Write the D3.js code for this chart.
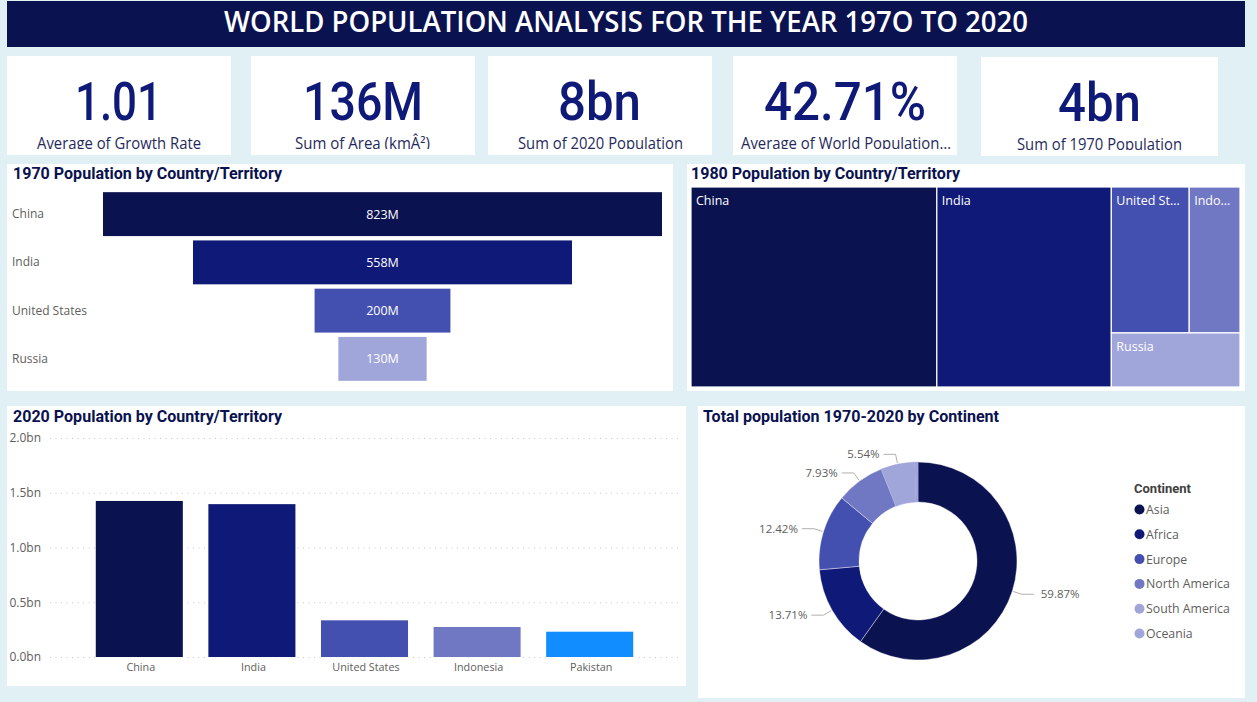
<!DOCTYPE html>
<html><head><meta charset="utf-8">
<script src="https://cdn.jsdelivr.net/npm/d3@7/dist/d3.min.js"></script>
<style>
html,body{margin:0;padding:0;background:#E1F0F4;overflow:hidden}
svg{display:block}
</style></head><body>
<svg id="c" width="1257" height="702"></svg>
<script>
const titleText = "WORLD POPULATION ANALYSIS FOR THE YEAR 197O TO 2020";
const kpiValues = ["1.01","136M","8bn","42.71%","4bn"];
const kpiLabels = ["Average of Growth Rate","Sum of Area (kmÂ²)","Sum of 2020 Population","Average of World Population…","Sum of 1970 Population"];
const countries1970 = ["China","India","United States","Russia"];
const values1970 = [823,558,200,130];
const countries1980 = ["China","India","United States","Indonesia","Russia"];
const labels1980 = ["China","India","United St…","Indo…","Russia"];
const values1980 = [982,697,227,148,139];
const countries2020 = ["China","India","United States","Indonesia","Pakistan"];
const values2020 = [1.425,1.396,0.335,0.274,0.231];
const ticks2020 = [0,0.5,1,1.5,2];
const continents = ["Asia","Africa","Europe","North America","South America","Oceania"];
const shares = [59.87,13.71,12.42,7.93,5.54,0.53];

const NAVY="#0A1250",BLUE="#0F1A78",MID="#4350AF",SOFT="#7078C4",PALE="#A1A6DA",BRIGHT="#118DFF";
const GREY="#605E5C";
const DIN='Roboto,"Liberation Sans",sans-serif', UI='"Open Sans","Noto Sans",sans-serif';
const svg=d3.select("#c");
const defs=svg.append("defs");

function panel(x,y,w,h,fill="#fff"){return svg.append("rect").attr("x",x).attr("y",y).attr("width",w).attr("height",h).attr("fill",fill);}
function fit(sel,len){return sel.attr("textLength",len).attr("lengthAdjust","spacingAndGlyphs");}

// banner
panel(7,1,1238,46,NAVY);
fit(svg.append("text").attr("x",224).attr("y",32).attr("font-family",UI).attr("font-weight",600).attr("font-size",28).attr("fill","#fff").text(titleText),804);

// KPI cards
const cards=[
 {x:7,y:56,w:224,h:99,vx:75,vw:87,lx:37,lw:164},
 {x:251,y:56,w:224,h:99,vx:303,vw:120,lx:295,lw:135},
 {x:488,y:56,w:224,h:99,vx:558,vw:83,lx:518,lw:165},
 {x:733,y:56,w:224,h:99,vx:764,vw:162,lx:741,lw:210},
 {x:981,y:57,w:237,h:99,vx:1058,vw:83,lx:1017,lw:165}];
cards.forEach((c,i)=>{
  panel(c.x,c.y,c.w,c.h);
  defs.append("clipPath").attr("id","kc"+i).append("rect").attr("x",c.x).attr("y",c.y).attr("width",c.w).attr("height",c.h-6);
  const g=svg.append("g").attr("clip-path",`url(#kc${i})`);
  fit(g.append("text").attr("x",c.vx).attr("y",c.y+64).attr("font-family",DIN).attr("font-weight",500).attr("font-size",53).attr("fill",BLUE).text(kpiValues[i]),c.vw);
  fit(g.append("text").attr("x",c.lx).attr("y",c.y+93).attr("font-family",UI).attr("font-size",15.5).attr("fill","#1F2A5C").text(kpiLabels[i]),c.lw);
});

function chartTitle(x,y,t,w){fit(svg.append("text").attr("x",x).attr("y",y).attr("font-family",DIN).attr("font-weight",700).attr("font-size",16).attr("fill",NAVY).text(t),w);}

// 1970 funnel
panel(7,164,666,227);
chartTitle(13,179,"1970 Population by Country/Territory",269);
const fy=d3.scaleBand().domain(countries1970).range([190,383]).paddingInner(0.09).paddingOuter(0.045);
const fw=d3.scaleLinear().domain([0,d3.max(values1970)]).range([0,559]);
const fcx=382.5, fcol=d3.scaleOrdinal(countries1970,[NAVY,BLUE,MID,PALE]);
const fg=svg.append("g").selectAll("g").data(countries1970).join("g");
fg.append("rect").attr("x",(d,i)=>fcx-fw(values1970[i])/2).attr("y",d=>fy(d)).attr("width",(d,i)=>fw(values1970[i])).attr("height",fy.bandwidth()).attr("fill",d=>fcol(d));
fg.append("text").attr("x",fcx).attr("y",d=>fy(d)+fy.bandwidth()/2+4.5).attr("text-anchor","middle").attr("font-family",UI).attr("font-size",12.5).attr("fill","#fff").text((d,i)=>values1970[i]+"M");
fg.append("text").attr("x",12).attr("y",d=>fy(d)+fy.bandwidth()/2+4).attr("font-family",UI).attr("font-size",12).attr("fill",GREY).text(d=>d);

// 1980 treemap
panel(687,164,558,227);
chartTitle(691,179,"1980 Population by Country/Territory",269);
const tree={children:[
  {name:0,value:values1980[0]},{name:1,value:values1980[1]},
  {children:[{children:[{name:2,value:values1980[2]},{name:3,value:values1980[3]}]},{name:4,value:values1980[4]}]}
]};
const root=d3.hierarchy(tree).sum(d=>d.value||0);
d3.treemap().size([549,200]).round(false).tile((n,x0,y0,x1,y1)=>{
  (n.depth%2===0?d3.treemapDice:d3.treemapSlice)(n,x0,y0,x1,y1);
})(root);
const tcol=[NAVY,BLUE,MID,SOFT,PALE];
const tg=svg.append("g").attr("transform","translate(691,187)").selectAll("g").data(root.leaves()).join("g");
tg.append("rect").attr("x",d=>d.x0).attr("y",d=>d.y0).attr("width",d=>d.x1-d.x0).attr("height",d=>d.y1-d.y0).attr("fill",d=>tcol[d.data.name]).attr("stroke","#fff").attr("stroke-width",1.2);
tg.append("text").attr("x",d=>d.x0+5).attr("y",d=>d.y0+18).attr("font-family",UI).attr("font-size",12.5).attr("fill","#fff").text(d=>labels1980[d.data.name]);

// 2020 columns
panel(7,406,679,280);
chartTitle(13,422,"2020 Population by Country/Territory",269);
const by=d3.scaleLinear().domain([0,2]).range([657,438]);
const bx=d3.scaleBand().domain(countries2020).range([83,646]).paddingInner(0.227).paddingOuter(0.1135);
const yAxis=d3.axisLeft(by).tickValues(ticks2020).tickFormat(d=>d.toFixed(1)+"bn").tickSize(0).tickPadding(9);
const ya=svg.append("g").attr("transform","translate(50,0)").call(yAxis);
ya.select(".domain").remove();
ya.selectAll("text").attr("font-family",UI).attr("font-size",12).attr("fill",GREY);
ya.selectAll(".tick").append("line").attr("x1",0).attr("x2",630).attr("stroke","#C8C6C4").attr("stroke-dasharray","1 4.5").attr("stroke-width",1);
const bcol=[NAVY,BLUE,MID,SOFT,BRIGHT];
svg.append("g").selectAll("rect").data(countries2020).join("rect")
  .attr("x",d=>bx(d)).attr("y",(d,i)=>by(values2020[i])).attr("width",bx.bandwidth()).attr("height",(d,i)=>by(0)-by(values2020[i])).attr("fill",(d,i)=>bcol[i]).attr("stroke","#fff").attr("stroke-width",1.5).attr("paint-order","stroke");
const xa=svg.append("g").attr("transform","translate(1.5,658)").call(d3.axisBottom(bx).tickSize(0).tickPadding(5));
xa.select(".domain").remove();
xa.selectAll("text").attr("font-family",UI).attr("font-size",10.8).attr("fill",GREY);

// donut
panel(698,406,547,292);
chartTitle(703,422,"Total population 1970-2020 by Continent",296);
const cx=918,cy=561,R=99,r0=59;
const pie=d3.pie().sort(null).value(d=>d)(shares);
const arc=d3.arc().innerRadius(r0).outerRadius(R);
const dcol=[NAVY,BLUE,MID,SOFT,PALE,PALE];
const dg=svg.append("g").attr("transform",`translate(${cx},${cy})`);
dg.selectAll("path").data(pie).join("path").attr("d",arc).attr("fill",(d,i)=>dcol[i]).attr("stroke",(d,i)=>i>=4?PALE:"#fff").attr("stroke-width",0.4);
pie.slice(0,5).forEach(d=>{
  const a=(d.startAngle+d.endAngle)/2, s=Math.sin(a), c=-Math.cos(a);
  const side=s>0?1:-1;
  const p1=[(R+1)*s,(R+1)*c], p2=[(R+10)*s,(R+10)*c], p3=[p2[0]+side*12,p2[1]];
  dg.append("path").attr("d",d3.line()([p1,p2,p3])).attr("fill","none").attr("stroke","#B3B0AD").attr("stroke-width",1);
  dg.append("text").attr("x",p3[0]+side*(side>0?7:4)).attr("y",p3[1]+4).attr("text-anchor",side>0?"start":"end").attr("font-family",UI).attr("font-size",11.5).attr("fill",GREY).text(d.data.toFixed(2)+"%");
});
const ly=d3.scalePoint().domain(continents).range([509.5,633.5]);
svg.append("text").attr("x",1134).attr("y",493).attr("font-family",DIN).attr("font-weight",700).attr("font-size",13).attr("fill","#404040").text("Continent");
const lg=svg.append("g").selectAll("g").data(continents).join("g");
lg.append("circle").attr("cx",1139.5).attr("cy",d=>ly(d)).attr("r",5).attr("fill",(d,i)=>dcol[i]);
lg.append("text").attr("x",1146).attr("y",d=>ly(d)+4.5).attr("font-family",UI).attr("font-size",12.3).attr("fill",GREY).text(d=>d);
</script>
</body></html>
